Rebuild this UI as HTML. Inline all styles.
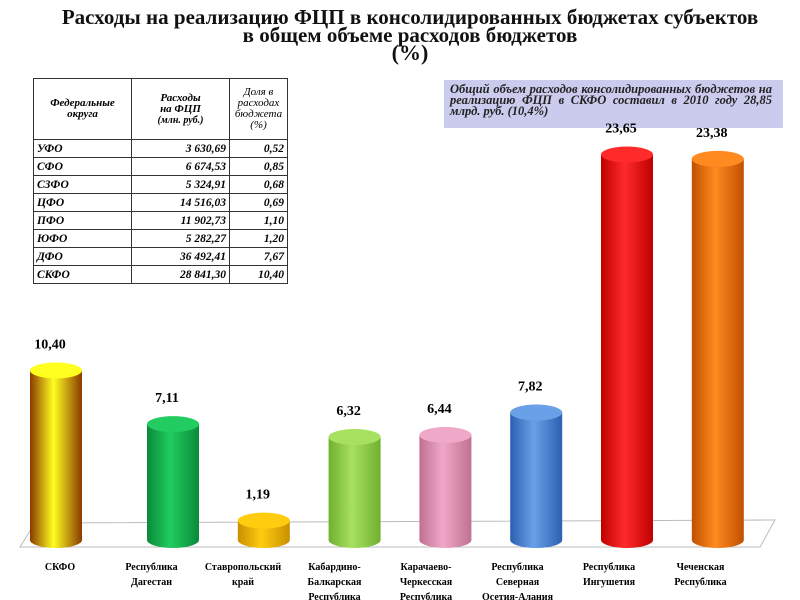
<!DOCTYPE html>
<html><head><meta charset="utf-8"><style>
body{margin:0;width:800px;height:600px;background:#fff;overflow:hidden;font-family:"Liberation Serif",serif;}
.title{position:absolute;left:0;top:8px;width:820px;text-align:center;font-weight:bold;font-size:21px;line-height:18px;color:#111;}
table{position:absolute;left:33px;top:78px;width:255px;border-collapse:collapse;font-style:italic;font-weight:bold;font-size:11.5px;}
td{border:1px solid #333;padding:0 3px;height:17px;}
td.r{text-align:right}
th{border:1px solid #333;font-size:11px;font-weight:bold;height:58px;line-height:11px;}
.box{position:absolute;left:444px;top:80px;width:322px;height:38px;background:#cbcbee;padding:4px 11px 6px 6px;font-style:italic;font-weight:bold;font-size:12.5px;line-height:11px;text-align:justify;color:#222;}
svg{position:absolute;left:0;top:0}
</style></head><body>
<div class="title">Расходы на реализацию ФЦП в консолидированных бюджетах субъектов<br>в общем объеме расходов бюджетов<br><span style="font-size:22px">(%)</span></div>
<table>
<tr><th style="width:95px">Федеральные<br>округа</th><th>Расходы<br>на ФЦП<br><span style="font-size:10px">(млн. руб.)</span></th><th style="width:55px;font-weight:normal">Доля в<br>расходах<br>бюджета<br>(%)</th></tr>
<tr><td>УФО</td><td class="r">3 630,69</td><td class="r">0,52</td></tr>
<tr><td>СФО</td><td class="r">6 674,53</td><td class="r">0,85</td></tr>
<tr><td>СЗФО</td><td class="r">5 324,91</td><td class="r">0,68</td></tr>
<tr><td>ЦФО</td><td class="r">14 516,03</td><td class="r">0,69</td></tr>
<tr><td>ПФО</td><td class="r">11 902,73</td><td class="r">1,10</td></tr>
<tr><td>ЮФО</td><td class="r">5 282,27</td><td class="r">1,20</td></tr>
<tr><td>ДФО</td><td class="r">36 492,41</td><td class="r">7,67</td></tr>
<tr><td>СКФО</td><td class="r">28 841,30</td><td class="r">10,40</td></tr>
</table>
<div class="box">Общий объем расходов консолидированных бюджетов на реализацию ФЦП в СКФО составил в 2010 году 28,85 млрд. руб. (10,4%)</div>
<svg id="chart" width="800" height="600"></svg>
<script>
const categories=["СКФО","Республика\nДагестан","Ставропольский\nкрай","Кабардино-\nБалкарская\nРеспублика","Карачаево-\nЧеркесская\nРеспублика","Республика\nСеверная\nОсетия-Алания","Республика\nИнгушетия","Чеченская\nРеспублика"];
const values=[10.40,7.11,1.19,6.32,6.44,7.82,23.65,23.38];
const labels=["10,40","7,11","1,19","6,32","6,44","7,82","23,65","23,38"];
const colors=[["#8a3a00","#ffff20"],["#0a8a3a","#22cc60"],["#c89000","#ffcc10"],["#70b030","#a8e060"],["#c07090","#f0a8c8"],["#2a60b0","#6aa0e8"],["#c00000","#ff2a2a"],["#c05000","#ff8a20"]];
const svg=document.getElementById('chart');const NS="http://www.w3.org/2000/svg";
const base=540,scale=16.3,bw=52;
function x(i){return i==0?56:173+(i-1)*90.8;}
function lx(i){return 60+i*91.5;}
function y(v){return base-v*scale;}
function el(t,a){const e=document.createElementNS(NS,t);for(const k in a)e.setAttribute(k,a[k]);svg.appendChild(e);return e;}
let defs=el('defs',{});
const floor=el('polygon',{points:"35,523 775,520 760,547 20,547",fill:"none",stroke:"#bbb"});

values.forEach((v,i)=>{
 const g=document.createElementNS(NS,'linearGradient');g.id='g'+i;
 [[0,colors[i][0]],[0.45,colors[i][1]],[1,colors[i][0]]].forEach(s=>{const st=document.createElementNS(NS,'stop');st.setAttribute('offset',s[0]);st.setAttribute('stop-color',s[1]);g.appendChild(st);});
 defs.appendChild(g);
 const cx=x(i),top=y(v);
 const body=el('path',{d:`M${cx-bw/2},${top} L${cx-bw/2},${base} A${bw/2},8 0 0 0 ${cx+bw/2},${base} L${cx+bw/2},${top} Z`,fill:`url(#g${i})`});
 
 el('ellipse',{cx:cx,cy:top,rx:bw/2,ry:8,fill:colors[i][1]});
 const t=el('text',{x:cx-6,y:top-22,'text-anchor':'middle','font-size':14,'font-weight':'bold','font-family':'Liberation Serif'});
 t.textContent=labels[i];
 const lines=categories[i].split('\n');
 lines.forEach((l,j)=>{const c=el('text',{x:lx(i),y:570+j*15,'text-anchor':'middle','font-size':10,'font-weight':'bold','font-family':'Liberation Serif'});c.textContent=l;});
});
</script>
</body></html>
